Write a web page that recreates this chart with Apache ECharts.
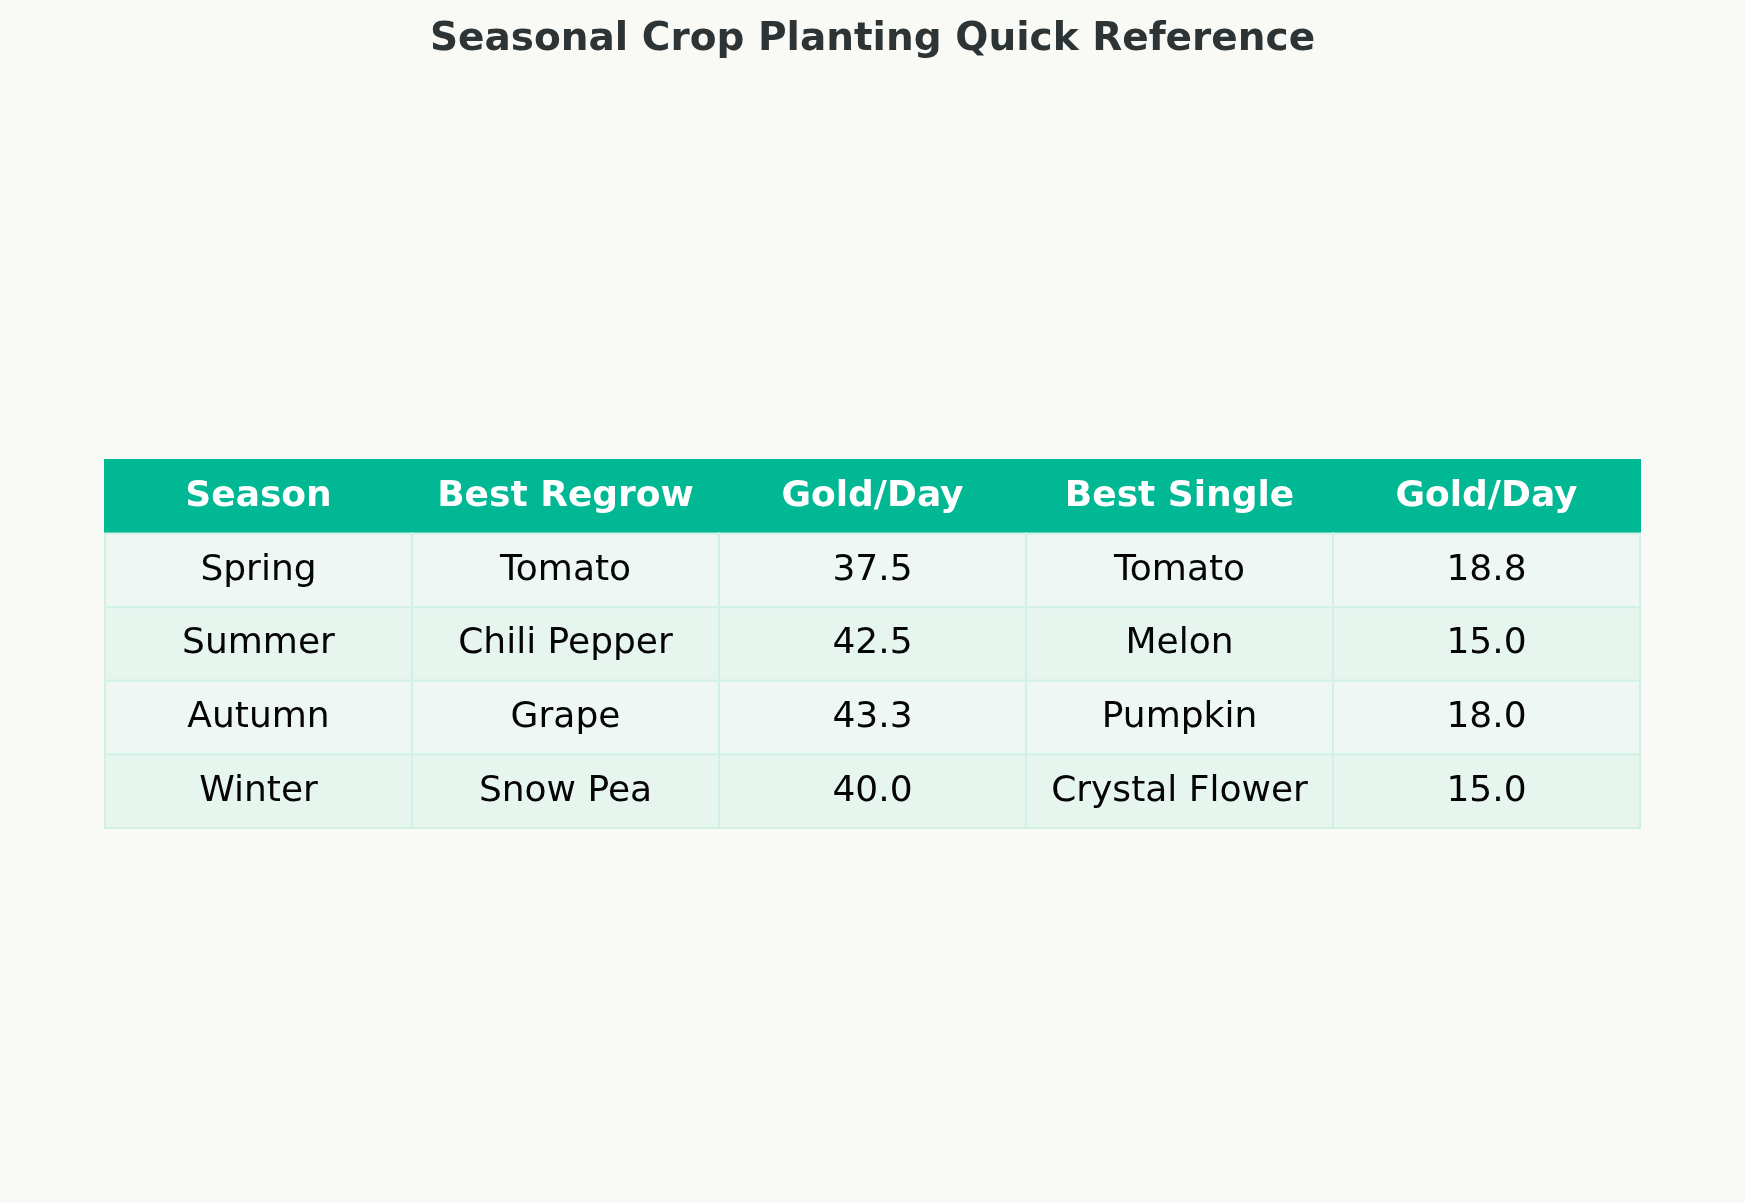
<!DOCTYPE html>
<html><head><meta charset="utf-8">
<script src="https://cdn.jsdelivr.net/npm/echarts@6/dist/echarts.min.js"></script>
<style>html,body{margin:0;padding:0;background:#f9faf6}#c{width:1745px;height:1203px}</style>
</head><body><div id="c"></div>
<script>
const headers = ["Season", "Best Regrow", "Gold/Day", "Best Single", "Gold/Day"];
const seasons = ["Spring", "Summer", "Autumn", "Winter"];
const bestRegrow = ["Tomato", "Chili Pepper", "Grape", "Snow Pea"];
const regrowGold = [37.5, 42.5, 43.3, 40.0];
const bestSingle = ["Tomato", "Melon", "Pumpkin", "Crystal Flower"];
const singleGold = [18.8, 15.0, 18.0, 15.0];

const rows = [headers];
for (let i = 0; i < seasons.length; i++) {
  rows.push([seasons[i], bestRegrow[i], regrowGold[i].toFixed(1), bestSingle[i], singleGold[i].toFixed(1)]);
}
const data = [];
rows.forEach((r, ri) => r.forEach((t, ci) => data.push([ci, ri, t])));
const rowCats = rows.map((_, i) => String(i));

const chart = echarts.init(document.getElementById('c'));
chart.setOption({
  backgroundColor: '#f9faf6',
  title: { text: 'Seasonal Crop Planting Quick Reference', left: 'center', top: 15,
    textStyle: { fontFamily: 'DejaVu Sans', fontSize: 39, fontWeight: 'bold', color: '#2d3436' } },
  grid: { left: 105, right: 105, top: 460, height: 368 },
  xAxis: { type: 'value', min: 0, max: 5, show: false },
  yAxis: { type: 'category', data: rowCats, inverse: true, show: false },
  series: [{
    type: 'custom',
    data: data,
    renderItem: function (params, api) {
      const c = api.value(0), r = api.value(1), t = api.value(2);
      const p0 = api.coord([c, r]);
      const p1 = api.coord([c + 1, r]);
      const h = api.size([0, 1])[1];
      const x = p0[0], w = p1[0] - p0[0], y = p0[1] - h / 2;
      const isH = r === 0;
      const fill = isH ? '#00b894' : (r % 2 === 1 ? '#eff7f4' : '#e7f5ef');
      return {
        type: 'group',
        children: [
          { type: 'rect', shape: { x: x, y: y, width: w, height: h },
            style: { fill: fill, stroke: isH ? '#00b894' : '#d2f1e6', lineWidth: 2 } },
          { type: 'text', style: { x: x + w / 2, y: y + h / 2, text: t, align: 'center', verticalAlign: 'middle',
            fontFamily: 'DejaVu Sans', fontSize: 36, fontWeight: isH ? 'bold' : 'normal',
            fill: isH ? '#ffffff' : '#050505' } }
        ]
      };
    }
  }]
});
</script></body></html>
